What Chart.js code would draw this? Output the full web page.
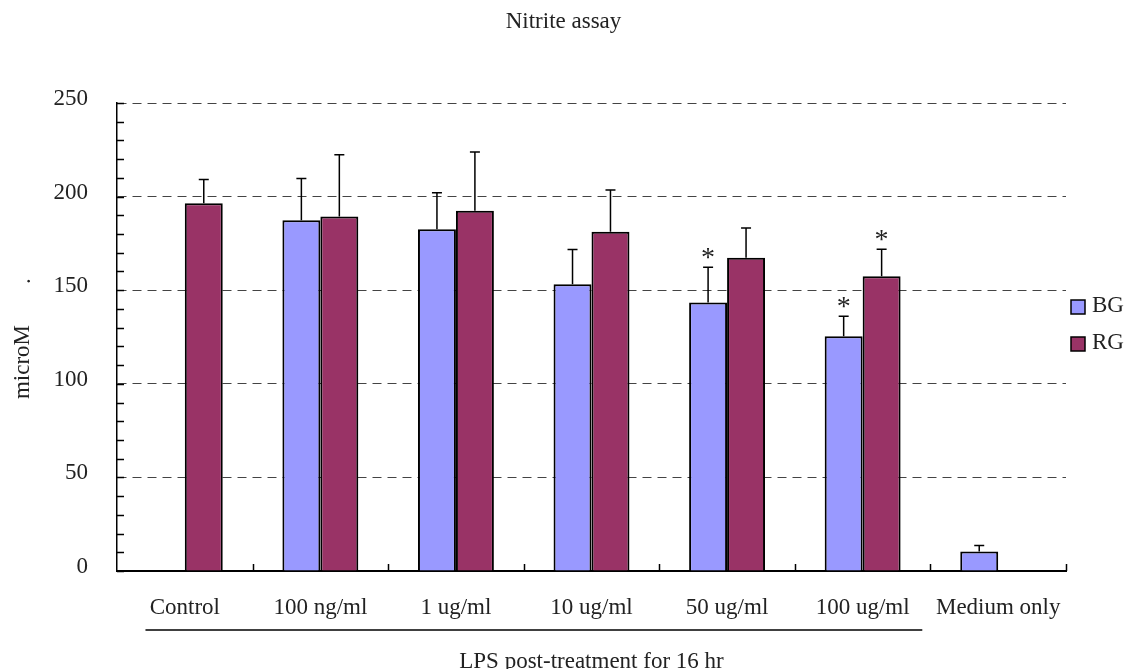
<!DOCTYPE html>
<html><head><meta charset="utf-8">
<script src="https://cdn.jsdelivr.net/npm/chart.js@4/dist/chart.umd.min.js"></script>
<style>html,body{margin:0;padding:0;background:#fff}#wrap{width:1127px;height:669px}</style>
</head><body><div id="wrap"><canvas id="c" width="1127" height="669"></canvas></div>
<script>
const chartTitle = 'Nitrite assay';
const yAxisTitle = 'microM';
const xAxisTitle = 'LPS post-treatment for 16 hr';
const categories = ['Control', '100 ng/ml', '1 ug/ml', '10 ug/ml', '50 ug/ml', '100 ug/ml', 'Medium only'];
const seriesNames = ['BG', 'RG'];
const bgValues = [null, 187.4, 182.6, 153.2, 143.4, 125.4, 10.4];
const rgValues = [196.4, 189.4, 192.4, 181.2, 167.3, 157.5, null];
const bgErrors = [null, 22.3, 19.4, 18.6, 18.9, 10.7, 3.2];
const rgErrors = [12.8, 33.0, 31.4, 22.3, 15.9, 14.4, null];
const bgSignificant = [false, false, false, false, true, true, false];
const rgSignificant = [false, false, false, false, false, true, false];
const lpsGroup = [0, 5];
const yMin = 0, yMax = 250, yStep = 50, yMinorStep = 10;

const FONT = 'Liberation Serif';
const TXT = '#222';
const colors = ['#9999FF', '#993366'];
const errors = [bgErrors, rgErrors];
const signif = [bgSignificant, rgSignificant];

const extras = {
  id: 'extras',
  afterDatasetsDraw(chart) {
    const ctx = chart.ctx, y = chart.scales.y;
    ctx.save();
    chart.data.datasets.forEach((ds, di) => {
      const meta = chart.getDatasetMeta(di);
      meta.data.forEach((bar, i) => {
        const v = ds.data[i];
        if (v === null || v === undefined) return;
        const e = errors[di][i];
        const top = y.getPixelForValue(v);
        const cap = y.getPixelForValue(v + e);
        ctx.strokeStyle = '#000';
        ctx.lineWidth = 1.5;
        ctx.beginPath();
        ctx.moveTo(bar.x, top);
        ctx.lineTo(bar.x, cap);
        ctx.moveTo(bar.x - 5, cap);
        ctx.lineTo(bar.x + 5, cap);
        ctx.stroke();
        if (signif[di][i]) {
          ctx.fillStyle = TXT;
          ctx.font = '28px "' + FONT + '"';
          ctx.textAlign = 'center';
          ctx.textBaseline = 'alphabetic';
          ctx.fillText('*', bar.x, cap - 1);
        }
      });
    });
    ctx.restore();
  },
  afterDraw(chart) {
    const ctx = chart.ctx, y = chart.scales.y, x = chart.scales.x, ca = chart.chartArea;
    ctx.save();
    ctx.strokeStyle = '#000';
    ctx.lineWidth = 1.5;
    ctx.beginPath();
    for (let v = yMin; v <= yMax; v += yMinorStep) {
      const py = Math.round(y.getPixelForValue(v)) + 0.5;
      ctx.moveTo(ca.left, py);
      ctx.lineTo(ca.left + 7, py);
    }
    const n = categories.length;
    const cw = (x.getPixelForValue(n - 1) - x.getPixelForValue(0)) / (n - 1);
    for (let i = 0; i < n; i++) {
      const px = Math.round(x.getPixelForValue(i) + cw / 2) + 0.5;
      ctx.moveTo(px, ca.bottom);
      ctx.lineTo(px, ca.bottom - 7);
    }
    ctx.stroke();
    ctx.lineWidth = 1.5;
    ctx.beginPath();
    ctx.moveTo(x.getPixelForValue(lpsGroup[0]) - cw * 0.29, 630);
    ctx.lineTo(x.getPixelForValue(lpsGroup[1]) + cw * 0.44, 630);
    ctx.stroke();
    ctx.fillStyle = TXT;
    ctx.font = '23px "' + FONT + '"';
    ctx.textAlign = 'center';
    ctx.textBaseline = 'middle';
    ctx.fillText(chartTitle, chart.width / 2, 22);
    ctx.save();
    ctx.translate(23, 362);
    ctx.rotate(-Math.PI / 2);
    ctx.fillText(yAxisTitle, 0, 0);
    ctx.restore();
    ctx.save();
    ctx.translate(24, 281);
    ctx.rotate(-Math.PI / 2);
    ctx.fillText('.', 0, 0);
    ctx.restore();
    const lx = ca.right + 5;
    const ly = [307, 344];
    seriesNames.forEach((name, i) => {
      ctx.fillStyle = colors[i];
      ctx.fillRect(lx, ly[i] - 7, 14, 14);
      ctx.strokeStyle = '#000';
      ctx.lineWidth = 1.5;
      ctx.strokeRect(lx, ly[i] - 7, 14, 14);
      ctx.fillStyle = TXT;
      ctx.textAlign = 'left';
      ctx.textBaseline = 'middle';
      ctx.fillText(name, lx + 21, ly[i] - 1);
    });
    ctx.restore();
  }
};

new Chart(document.getElementById('c'), {
  type: 'bar',
  data: {
    labels: categories,
    datasets: [
      { label: seriesNames[0], data: bgValues, backgroundColor: colors[0], borderColor: '#000', borderWidth: 2, categoryPercentage: 0.56, barPercentage: 1.0 },
      { label: seriesNames[1], data: rgValues, backgroundColor: colors[1], borderColor: '#000', borderWidth: 2, categoryPercentage: 0.56, barPercentage: 1.0 }
    ]
  },
  options: {
    responsive: false,
    animation: false,
    devicePixelRatio: 1,
    layout: { padding: { left: 0, right: 61, top: 103, bottom: 0 } },
    plugins: { legend: { display: false }, tooltip: { enabled: false }, title: { display: false } },
    scales: {
      x: {
        grid: { display: false, drawTicks: false },
        border: { display: true, color: '#000', width: 2 },
        ticks: { font: { family: FONT, size: 23 }, color: TXT, padding: 23, maxRotation: 0, autoSkip: false },
        title: { display: true, text: xAxisTitle, font: { family: FONT, size: 23, lineHeight: 0.6 }, color: TXT, padding: { top: 0, bottom: 0 } },
        afterFit(s) { s.height = 98; }
      },
      y: {
        min: yMin, max: yMax,
        ticks: { stepSize: yStep, font: { family: FONT, size: 23 }, color: TXT, padding: 29, labelOffset: -4 },
        grid: { drawTicks: false, lineWidth: 1, color: c => (c.tick && c.tick.value === 0) ? 'rgba(0,0,0,0)' : '#444' },
        border: { display: true, color: '#000', width: 1.5, dash: [9, 6] },
        afterFit(s) { s.width = 117; }
      }
    }
  },
  plugins: [extras]
});
</script>
</body></html>
